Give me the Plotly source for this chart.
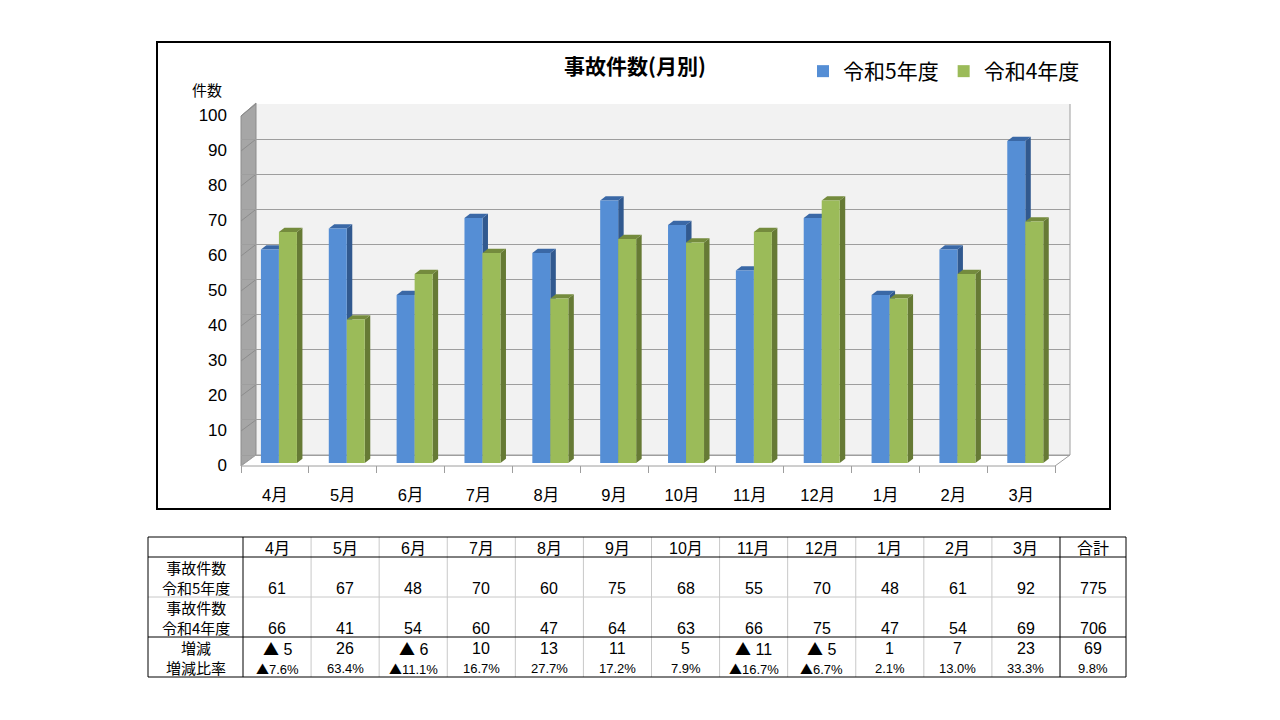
import plotly.graph_objects as go

# ---------------- data ----------------
months = ["4月", "5月", "6月", "7月", "8月", "9月", "10月", "11月", "12月", "1月", "2月", "3月"]
r5_counts = [61, 67, 48, 70, 60, 75, 68, 55, 70, 48, 61, 92]
r4_counts = [66, 41, 54, 60, 47, 64, 63, 66, 75, 47, 54, 69]
series_names = ["令和5年度", "令和4年度"]
y_ticks = [0, 10, 20, 30, 40, 50, 60, 70, 80, 90, 100]
chart_title = "事故件数(月別)"
y_title = "件数"
row_labels = [("事故件数", "令和5年度"), ("事故件数", "令和4年度"), ("増減", "増減比率")]
total_label = "合計"

# ---------------- styling / geometry ----------------
W, H = 1280, 720
JP = "Noto Sans CJK JP"
NUM = "Liberation Sans, Noto Sans CJK JP"
BLUE, BLUE_SIDE, BLUE_TOP = "#558ED5", "#31598F", "#3A68A6"
GREEN, GREEN_SIDE, GREEN_TOP = "#9BBB59", "#667A35", "#748B3D"
GRID = "#9e9e9e"
TRI = '<span style="font-family:Noto Sans CJK JP">▲</span>'


def fx(x):
    return x / W


def fy(y):
    return 1 - y / H


PL, PR, PT, PB = 241, 1070, 104, 465          # plot-area pixels
CAT = 67.85                                    # px per category
DX, DY = 15, 11                                # wall depth (px)
FRONT_S = 3.5                                  # px per unit (front)
BACK_S = (455 - 104) / 100                     # px per unit (back wall)
BAR_ZERO = 463                                 # bar base pixel

x_range = [-0.5, -0.5 + (PR - PL) / CAT]
y_front_range = [0, (PB - PT) / FRONT_S]
y_back_range = [-(PB - 455) / BACK_S, 100]
y_bar_range = [-(PB - BAR_ZERO) / FRONT_S, (BAR_ZERO - PT) / FRONT_S]

bar_w = 18 / CAT
offsets = [-14 / CAT, 4 / CAT]
bdx = 5.5 / CAT
bdy = 4.3 / FRONT_S

fig = go.Figure()
xs = list(range(len(months)))
for name, vals, off, col in zip(series_names, [r5_counts, r4_counts], offsets, [BLUE, GREEN]):
    fig.add_trace(go.Bar(
        x=xs, y=vals, name=name, width=bar_w, offset=off,
        marker=dict(color=col, line=dict(width=0)),
        xaxis="x", yaxis="y", hoverinfo="skip",
    ))
# invisible helper traces so the label / grid axes get drawn
fig.add_trace(go.Scatter(x=xs, y=r5_counts, mode="none", showlegend=False, hoverinfo="skip",
                         xaxis="x", yaxis="y3"))
fig.add_trace(go.Scatter(x=xs, y=r4_counts, mode="none", showlegend=False, hoverinfo="skip",
                         xaxis="x2", yaxis="y2"))

shapes = []
# back wall
shapes.append(dict(type="rect", xref="paper", yref="paper",
                   x0=fx(PL + DX), x1=fx(PR), y0=fy(455), y1=fy(PT),
                   fillcolor="#F2F2F2", line=dict(width=0), layer="below"))
shapes.append(dict(type="line", xref="paper", yref="paper",
                   x0=fx(PR), x1=fx(PR), y0=fy(455), y1=fy(PT),
                   line=dict(color=GRID, width=1), layer="between"))
# left wall
shapes.append(dict(type="path", xref="paper", yref="paper",
                   path=f"M{fx(PL)},{fy(116)} L{fx(PL + DX)},{fy(PT - 1)} L{fx(PL + DX)},{fy(455)} L{fx(PL)},{fy(466)} Z",
                   fillcolor="#A6A6A6", line=dict(color="#8C8C8C", width=1), layer="between"))
for v in y_ticks:
    yf = 466 - FRONT_S * v
    yb = 455 - BACK_S * v
    shapes.append(dict(type="line", xref="paper", yref="paper",
                       x0=fx(PL), y0=fy(yf), x1=fx(PL + DX), y1=fy(yb),
                       line=dict(color="#8C8C8C", width=1), layer="between"))
# floor
shapes.append(dict(type="path", xref="paper", yref="paper",
                   path=f"M{fx(PL)},{fy(466)} L{fx(PL + DX)},{fy(455)} L{fx(PR)},{fy(455)} L{fx(PR - DX)},{fy(466)} Z",
                   fillcolor="#FFFFFF", line=dict(color=GRID, width=1), layer="between"))

# 3D faces of bars
for vals, off, side, top in [(r5_counts, offsets[0], BLUE_SIDE, BLUE_TOP),
                             (r4_counts, offsets[1], GREEN_SIDE, GREEN_TOP)]:
    for i, v in enumerate(vals):
        x0 = i + off
        x1 = x0 + bar_w
        shapes.append(dict(type="path", xref="x", yref="y",
                           path=f"M{x1},0 L{x1 + bdx},{bdy} L{x1 + bdx},{v + bdy} L{x1},{v} Z",
                           fillcolor=side, line=dict(width=0), layer="between"))
        shapes.append(dict(type="path", xref="x", yref="y",
                           path=f"M{x0},{v} L{x0 + bdx},{v + bdy} L{x1 + bdx},{v + bdy} L{x1},{v} Z",
                           fillcolor=top, line=dict(width=0), layer="between"))

# chart border
shapes.append(dict(type="rect", xref="paper", yref="paper",
                   x0=fx(157), x1=fx(1110), y0=fy(509), y1=fy(42),
                   line=dict(color="black", width=2), layer="above"))

# ---------------- table ----------------
annotations = []
TL, TR = 148, 1126
col_edges = [TL, 243] + [243 + (1060 - 243) * (k + 1) / 12 for k in range(12)] + [TR]


def hline(y, x0, x1, color, w=1):
    shapes.append(dict(type="line", xref="paper", yref="paper", x0=fx(x0), x1=fx(x1),
                       y0=fy(y), y1=fy(y), line=dict(color=color, width=w), layer="above"))


def vline(x, y0, y1, color, w=1):
    shapes.append(dict(type="line", xref="paper", yref="paper", x0=fx(x), x1=fx(x),
                       y0=fy(y0), y1=fy(y1), line=dict(color=color, width=w), layer="above"))


for k in range(2, 13):
    vline(col_edges[k], 537, 677, "#C8C8C8")
hline(597, TL, TR, "#C8C8C8")
for y in [537, 557, 637, 677]:
    hline(y, TL, TR, "black")
for x in [TL, 243, 1060, TR]:
    vline(x, 537, 677, "black")


def txt(s, x, y, size=16, family=NUM):
    annotations.append(dict(text=s, x=fx(x), y=fy(y), xref="paper", yref="paper",
                            showarrow=False, xanchor="center", yanchor="middle",
                            font=dict(family=family, size=size, color="black")))


col_centers = [(col_edges[k] + col_edges[k + 1]) / 2 for k in range(len(col_edges) - 1)]
for k, m in enumerate(months + [total_label]):
    txt(m, col_centers[k + 1], 548)

label_y = [577.5, 617.5, 657.5]
for (a, b), yc in zip(row_labels, label_y):
    annotations.append(dict(text=f"{a}<br>{b}", x=fx(col_centers[0]), y=fy(yc),
                            xref="paper", yref="paper", showarrow=False,
                            xanchor="center", yanchor="middle", align="center",
                            font=dict(family=JP, size=15, color="black")))

r5_all = r5_counts + [sum(r5_counts)]
r4_all = r4_counts + [sum(r4_counts)]
for k in range(13):
    a, b = r5_all[k], r4_all[k]
    d = a - b
    ratio = d / b * 100
    txt(str(a), col_centers[k + 1], 588)
    txt(str(b), col_centers[k + 1], 628)
    txt(f"{TRI} {abs(d)}" if d < 0 else str(d), col_centers[k + 1], 648)
    txt(f"{TRI}{abs(ratio):.1f}%" if d < 0 else f"{ratio:.1f}%", col_centers[k + 1], 668,
        size=13, family="Liberation Sans Narrow, Liberation Sans, Noto Sans CJK JP")

# chart texts
annotations.append(dict(text=f"<b>{chart_title}</b>", x=fx(635), y=fy(65), xref="paper", yref="paper",
                        showarrow=False, xanchor="center", yanchor="middle",
                        font=dict(family=JP, size=21, color="black")))
annotations.append(dict(text=y_title, x=fx(207), y=fy(89), xref="paper", yref="paper",
                        showarrow=False, xanchor="center", yanchor="middle",
                        font=dict(family=JP, size=15, color="black")))

fig.update_layout(
    width=W, height=H, autosize=False,
    margin=dict(l=0, r=0, t=0, b=0, pad=0),
    paper_bgcolor="white", plot_bgcolor="rgba(0,0,0,0)",
    barmode="overlay",
    showlegend=True,
    legend=dict(orientation="h", x=fx(803), y=fy(51), xanchor="left", yanchor="top",
                font=dict(family=JP, size=21, color="black"), itemwidth=30,
                bgcolor="rgba(0,0,0,0)", traceorder="normal"),
    xaxis=dict(domain=[fx(PL), fx(PR)], range=x_range, tickmode="array", tickvals=xs,
               ticktext=months, ticks="", showgrid=False, zeroline=False, showline=False,
               tickfont=dict(family=NUM, size=16.5, color="black"), ticklabelstandoff=18,
               anchor="y", fixedrange=True, automargin=False),
    xaxis2=dict(domain=[fx(PL), fx(PR)], range=x_range, overlaying="x", anchor="y2",
                tickmode="array", tickvals=[i - 0.5 for i in range(len(months) + 1)],
                ticks="outside", ticklen=7, tickcolor=GRID, showticklabels=False,
                showgrid=False, zeroline=False, showline=False, fixedrange=True,
                automargin=False),
    yaxis=dict(domain=[fy(PB), fy(PT)], range=y_bar_range, visible=False,
               anchor="x", fixedrange=True, automargin=False),
    yaxis2=dict(domain=[fy(PB), fy(PT)], range=y_back_range, overlaying="y", anchor="x2",
                tickmode="array", tickvals=y_ticks, showticklabels=False, ticks="",
                showgrid=True, gridcolor=GRID, gridwidth=1, zeroline=False, showline=False,
                fixedrange=True, automargin=False),
    yaxis3=dict(domain=[fy(PB), fy(PT)], range=y_front_range, overlaying="y", anchor="x",
                tickmode="array", tickvals=y_ticks,
                ticks="", showgrid=False, zeroline=False, showline=False,
                tickfont=dict(family=NUM, size=17, color="black"), ticklabelstandoff=13,
                fixedrange=True, automargin=False),
    shapes=shapes,
    annotations=annotations,
)

fig.write_html("out.html", config={"displayModeBar": False},
               post_script="document.body.style.margin='0';document.body.style.overflow='hidden';")
